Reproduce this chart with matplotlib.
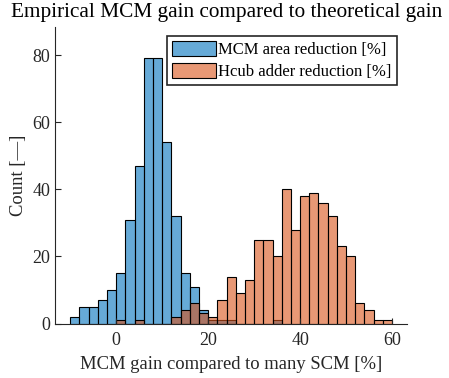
import numpy as np
import matplotlib
matplotlib.use('Agg')
import matplotlib.pyplot as plt

# bin counts, bin width 2
mcm_start = -10
mcm_counts = [2, 5, 5, 7, 10, 15, 31, 47, 79, 79, 54, 32, 15, 11, 4, 1, 1, 1, 0, 0, 0, 0, 1]
hcub_start = 0
hcub_counts = [1, 0, 1, 0, 0, 0, 2, 4, 6, 3, 2, 7, 14, 9, 13, 25, 25, 20, 40, 28,
               38, 39, 36, 32, 23, 20, 6, 4, 1, 1]
bin_width = 2

series_labels = ['MCM area reduction [%]', 'Hcub adder reduction [%]']
title = 'Empirical MCM gain compared to theoretical gain'
xlabel = 'MCM gain compared to many SCM [%]'
ylabel = 'Count [—]'
xticks = [0, 20, 40, 60]
yticks = [0, 20, 40, 60, 80]

blue = (0.0, 0.447, 0.741, 0.6)
orange = (0.85, 0.325, 0.098, 0.6)
dark = '#262626'

plt.rcParams['font.family'] = ['Liberation Serif', 'DejaVu Serif']

fig = plt.figure(figsize=(4.49, 3.78), dpi=100)
ax = fig.add_axes([0.1225, 0.144, 0.7845, 0.784])


def bin_lefts(start, counts):
    return start + bin_width * np.arange(len(counts))


ax.bar(bin_lefts(mcm_start, mcm_counts), mcm_counts, width=bin_width, align='edge',
       facecolor=blue, edgecolor='black', linewidth=0.8, label=series_labels[0])
ax.bar(bin_lefts(hcub_start, hcub_counts), hcub_counts, width=bin_width, align='edge',
       facecolor=orange, edgecolor='black', linewidth=0.8, label=series_labels[1])

ax.set_xlim(-13.3, 63.3)
ax.set_ylim(0, 88.3)
ax.set_xticks(xticks)
ax.set_yticks(yticks)

for side in ['top', 'right']:
    ax.spines[side].set_visible(False)
for side in ['left', 'bottom']:
    ax.spines[side].set_color(dark)
    ax.spines[side].set_linewidth(0.8)
ax.tick_params(direction='in', length=4, width=0.8, colors=dark, labelsize=13,
               labelcolor=dark)
ax.tick_params(axis='x', pad=6)

ax.set_title(title, fontsize=15.3, color='black', pad=7, x=0.488)
ax.set_xlabel(xlabel, fontsize=13.4, color=dark, labelpad=5)
ax.set_ylabel(ylabel, fontsize=13.4, color=dark, labelpad=4)

leg = ax.legend(loc='upper right', bbox_to_anchor=(0.97, 0.97), borderaxespad=0,
                fontsize=12, frameon=True, fancybox=False, handlelength=2.6,
                handleheight=1.0, handletextpad=0.15, borderpad=0.3, labelspacing=0.3)
leg.get_frame().set_edgecolor(dark)
leg.get_frame().set_linewidth(1.2)
leg.get_frame().set_alpha(None)
leg.get_frame().set_facecolor('white')

fig.savefig('out.png', dpi=100)
